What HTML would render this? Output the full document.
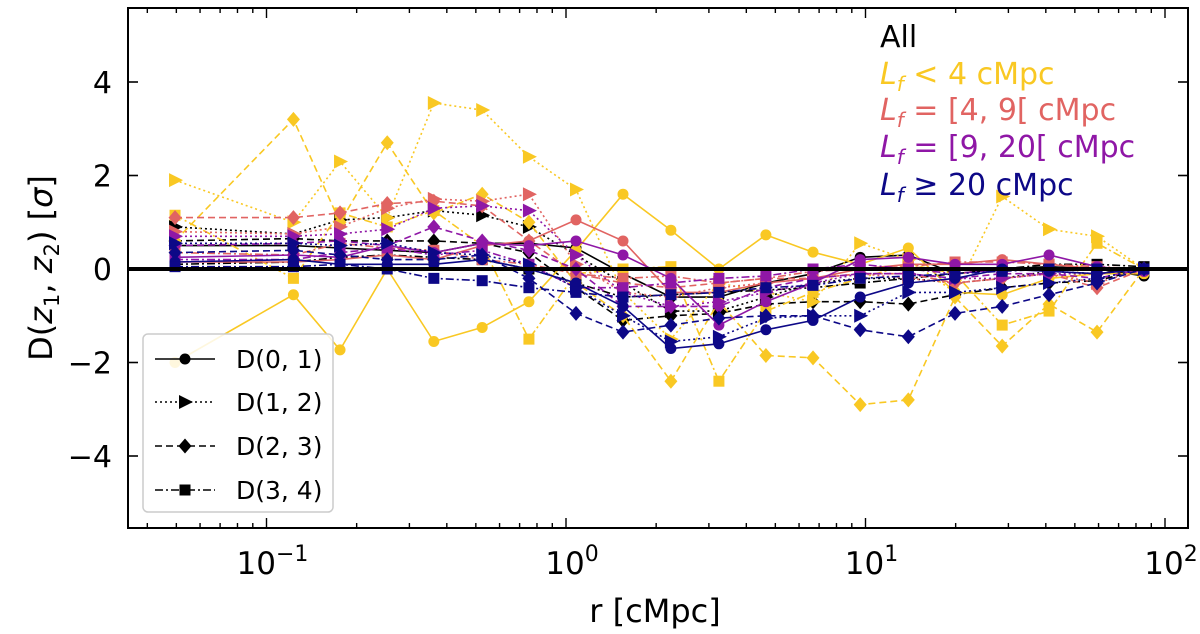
<!DOCTYPE html>
<html><head><meta charset="utf-8"><style>
body{margin:0;background:#fff;}
svg{display:block;font-family:"DejaVu Sans","Liberation Sans",sans-serif;}
</style></head><body>
<svg id="chart" width="1200" height="634" viewBox="0 0 1200 634"></svg>
<script>
const rValues=[0.0495,0.123,0.176,0.253,0.362,0.525,0.752,1.08,1.55,2.24,3.24,4.65,6.68,9.6,13.9,19.9,28.6,41,59.3,85.1];
const groupNames=['all','lf-lt-4','lf-4-9','lf-9-20','lf-ge-20'];
const groupColors=['#000000','#f9c823','#e16462','#8f17a6','#0d0887'];
const pairLabels=['D(0, 1)','D(1, 2)','D(2, 3)','D(3, 4)'];
const allSeries=[
[0.5,0.5,0.45,0.4,0.35,0.55,0.55,0.45,-0.1,-0.6,-0.6,-0.3,-0.1,0.25,0.3,-0.1,0,0.05,0,-0.15],
[0.9,0.75,1.05,1.1,1.25,1.15,0.9,0.3,-0.3,-0.9,-0.9,-0.6,-0.3,-0.2,-0.2,-0.3,-0.2,-0.05,-0.1,0],
[0.6,0.65,0.6,0.6,0.6,0.55,0.35,-0.4,-1.1,-1.0,-0.95,-0.75,-0.7,-0.7,-0.75,-0.55,-0.4,-0.3,-0.25,0],
[0.1,0.15,0.25,0.3,0.25,0.2,0.0,-0.3,-0.6,-0.55,-0.5,-0.45,-0.4,-0.3,-0.2,-0.1,0,0.1,0.1,0.05]];
const lt4Series=[
[-2.0,-0.55,-1.73,0,-1.55,-1.25,-0.7,0.4,1.6,0.83,0,0.73,0.36,0.1,0.45,-0.5,-0.55,-0.2,-0.1,-0.1],
[1.9,1.0,2.3,1.1,3.55,3.4,2.4,1.7,-0.5,-1.5,-0.3,-0.5,-0.7,0.55,0.2,-0.5,1.55,0.85,0.7,0],
[0.6,3.2,1.0,2.7,1.2,1.6,1.0,-0.3,-1.0,-2.4,-0.7,-1.85,-1.9,-2.9,-2.8,-0.6,-1.65,-0.75,-1.35,0],
[1.15,-0.2,1.2,0.9,1.25,0.5,-1.5,-0.1,0,0.05,-2.4,-0.9,-0.5,-0.2,0.1,-0.1,-1.2,-0.9,0.55,0]];
const s49Series=[
[0.15,0.15,0.2,0.3,0.2,0.5,0.6,1.05,0.6,-0.5,-0.5,-0.3,-0.2,0,0.1,0.1,0.2,0.1,0,-0.05],
[0.8,0.75,0.9,1.3,1.5,1.45,1.6,0.1,-0.5,-0.6,-0.4,-0.3,-0.2,-0.1,-0.2,-0.3,-0.2,-0.1,-0.3,0],
[1.1,1.1,1.2,1.4,1.45,1.35,0.6,-0.1,-0.3,-0.4,-0.3,-0.2,-0.2,-0.1,-0.1,-0.3,-0.2,-0.1,-0.4,0],
[0.35,0.3,0.55,0.45,0.4,0.2,0.1,-0.1,-0.2,-0.15,-0.3,-0.2,-0.05,0.0,0.05,0.15,0.15,0.1,0.05,0]];
const s920Series=[
[0.25,0.3,0.25,0.5,0.35,0.55,0.5,0.6,0.3,-0.2,-1.2,-0.7,-0.3,0.2,0.25,0.1,0.1,0.3,0.05,-0.05],
[0.7,0.7,0.75,0.85,1.3,1.35,1.25,0.3,-0.5,-0.8,-0.7,-0.5,-0.3,-0.1,-0.1,-0.2,-0.2,-0.1,-0.1,0],
[0.5,0.55,0.6,0.5,0.9,0.6,0.4,0.0,-0.8,-0.8,-0.8,-0.4,-0.2,-0.1,-0.1,-0.2,-0.1,-0.1,-0.2,0],
[0.2,0.2,0.35,0.45,0.3,0.4,0.1,-0.4,-0.4,-0.3,-0.2,-0.15,0.0,0.1,0.0,-0.1,0.0,0.0,0.0,0]];
const ge20Series=[
[0.15,0.2,0.1,0.1,0.1,0.2,0.0,-0.3,-0.8,-1.7,-1.6,-1.3,-1.1,-0.6,-0.3,-0.2,0.0,-0.05,-0.1,0],
[0.55,0.55,0.5,0.55,0.35,0.3,0.1,-0.4,-1.0,-1.55,-1.45,-1.05,-1.0,-1.0,-0.5,-0.5,-0.4,-0.3,-0.2,0],
[0.35,0.4,0.3,0.2,0.2,0.3,-0.2,-0.95,-1.35,-1.2,-1.05,-1.0,-1.0,-1.3,-1.45,-0.95,-0.8,-0.55,-0.3,0],
[0.05,0.05,0.1,0.0,-0.2,-0.25,-0.4,-0.5,-0.6,-0.55,-0.5,-0.4,-0.35,-0.2,-0.15,-0.1,-0.05,0.0,0.0,0]];
const yTicks=[-4,-2,0,2,4];
const xTickExps=[-1,0,1,2];

const NS='http://www.w3.org/2000/svg';
const svg=document.getElementById('chart');
const L=128,R=1188,T=8,B=528;
function xs(r){return 566+299.5*Math.log10(r);}
function ys(v){return 269-v*46.75;}
function el(tag,attrs,parent){const e=document.createElementNS(NS,tag);for(const k in attrs)e.setAttribute(k,attrs[k]);(parent||svg).appendChild(e);return e;}
const dashes=['', '2,3', '7,4', '8,3,2,3'];
function marker(g,kind,x,y,color){
  let m;
  if(kind===0)m=el('circle',{cx:x,cy:y,r:5.5,fill:color},g);
  else if(kind===1)m=el('polygon',{points:`${x-6},${y-7} ${x+8},${y} ${x-6},${y+7}`,fill:color},g);
  else if(kind===2)m=el('polygon',{points:`${x},${y-7.5} ${x+6.5},${y} ${x},${y+7.5} ${x-6.5},${y}`,fill:color},g);
  else m=el('rect',{x:x-5.5,y:y-5.5,width:11,height:11,fill:color},g);
  return m;
}
const plotClip=el('clipPath',{id:'pc'});el('rect',{x:L,y:T,width:R-L,height:B-T},plotClip);
const dataG=el('g',{'clip-path':'url(#pc)'});


const groups=[allSeries,lt4Series,s49Series,s920Series,ge20Series];
groups.forEach((grp,gi)=>{
  grp.forEach((vals,si)=>{
    const g=el('g',{},dataG);
    
    
    const pts=vals.map((v,i)=>xs(rValues[i]).toFixed(1)+','+ys(v).toFixed(1)).join(' ');
    const a={points:pts,fill:'none',stroke:groupColors[gi],'stroke-width':1.6};
    if(dashes[si])a['stroke-dasharray']=dashes[si];
    el('polyline',a,g);
    vals.forEach((v,i)=>marker(g,si,xs(rValues[i]),ys(v),groupColors[gi]));
  });
});
const zl=el('line',{x1:L,x2:R,y1:ys(0),y2:ys(0),stroke:'#000','stroke-width':4});


const fr=el('rect',{x:L,y:T,width:R-L,height:B-T,fill:'none',stroke:'#000','stroke-width':2});


yTicks.forEach(v=>{
  const y=ys(v);
  el('line',{x1:L,x2:L+10,y1:y,y2:y,stroke:'#000','stroke-width':1.6});
  el('line',{x1:R,x2:R-10,y1:y,y2:y,stroke:'#000','stroke-width':1.6});
  const t=el('text',{x:L-16,y:y+11,'text-anchor':'end','font-size':30});
  t.textContent=(v<0?'\u2212':'')+Math.abs(v);
  
  
});
for(let e=-2;e<=2;e++){for(let m=1;m<10;m++){const r=m*Math.pow(10,e);const x=xs(r);if(x<L||x>R)continue;const len=m===1?10:5;
  el('line',{x1:x,x2:x,y1:B,y2:B-len,stroke:'#000','stroke-width':1.4});
  el('line',{x1:x,x2:x,y1:T,y2:T+len,stroke:'#000','stroke-width':1.4});}}
xTickExps.forEach(e=>{
  const x=xs(Math.pow(10,e));
  const t=el('text',{x:x+6,y:574,'text-anchor':'middle','font-size':31});
  
  
  t.appendChild(document.createTextNode('10'));
  const s=el('tspan',{dy:-13,'font-size':22},t);s.textContent=(e<0?'\u2212':'')+Math.abs(e);
});
</script>
<svg width="1200" height="634" style="position:absolute;left:0;top:0;font-family:'DejaVu Sans','Liberation Sans',sans-serif">
<text x="655" y="622" text-anchor="middle" font-size="32">r [cMpc]</text>
<text transform="translate(52,268) rotate(-90)" text-anchor="middle" font-size="32">D(<tspan font-style="italic">z</tspan><tspan font-size="21" dy="7">1</tspan><tspan dy="-7">, </tspan><tspan font-style="italic">z</tspan><tspan font-size="21" dy="7">2</tspan><tspan dy="-7">) [</tspan><tspan font-style="italic">σ</tspan>]</text>
<g font-size="30">
<text x="880" y="47" fill="#000">All</text>
<text x="880" y="84" fill="#f9c823"><tspan font-style="italic">L</tspan><tspan font-style="italic" font-size="20" dy="7">f</tspan><tspan dy="-7"> &lt; 4 cMpc</tspan></text>
<text x="880" y="120" fill="#e16462"><tspan font-style="italic">L</tspan><tspan font-style="italic" font-size="20" dy="7">f</tspan><tspan dy="-7"> = [4, 9[ cMpc</tspan></text>
<text x="880" y="157" fill="#8f17a6"><tspan font-style="italic">L</tspan><tspan font-style="italic" font-size="20" dy="7">f</tspan><tspan dy="-7"> = [9, 20[ cMpc</tspan></text>
<text x="880" y="195" fill="#0d0887"><tspan font-style="italic">L</tspan><tspan font-style="italic" font-size="20" dy="7">f</tspan><tspan dy="-7"> ≥ 20 cMpc</tspan></text>
</g>
<g>
<rect x="143" y="334" width="190" height="178" rx="5" fill="#fff" fill-opacity="0.85" stroke="#ccc" stroke-width="1.5"/>
<g><line x1="155" x2="215" y1="359" y2="359" stroke="#000" stroke-width="1.6"/><circle cx="185" cy="359" r="5.5"/><text x="236" y="368" font-size="25">D(0, 1)</text></g>
<g><line x1="155" x2="215" y1="402" y2="402" stroke="#000" stroke-width="1.6" stroke-dasharray="2,3"/><polygon points="179,395 193,402 179,409"/><text x="236" y="411" font-size="25">D(1, 2)</text></g>
<g><line x1="155" x2="215" y1="446" y2="446" stroke="#000" stroke-width="1.6" stroke-dasharray="7,4"/><polygon points="185,438.5 191.5,446 185,453.5 178.5,446"/><text x="236" y="455" font-size="25">D(2, 3)</text></g>
<g><line x1="155" x2="215" y1="490" y2="490" stroke="#000" stroke-width="1.6" stroke-dasharray="8,3,2,3"/><rect x="179.5" y="484.5" width="11" height="11"/><text x="236" y="499" font-size="25">D(3, 4)</text></g>
</g>
</svg>
</body></html>
